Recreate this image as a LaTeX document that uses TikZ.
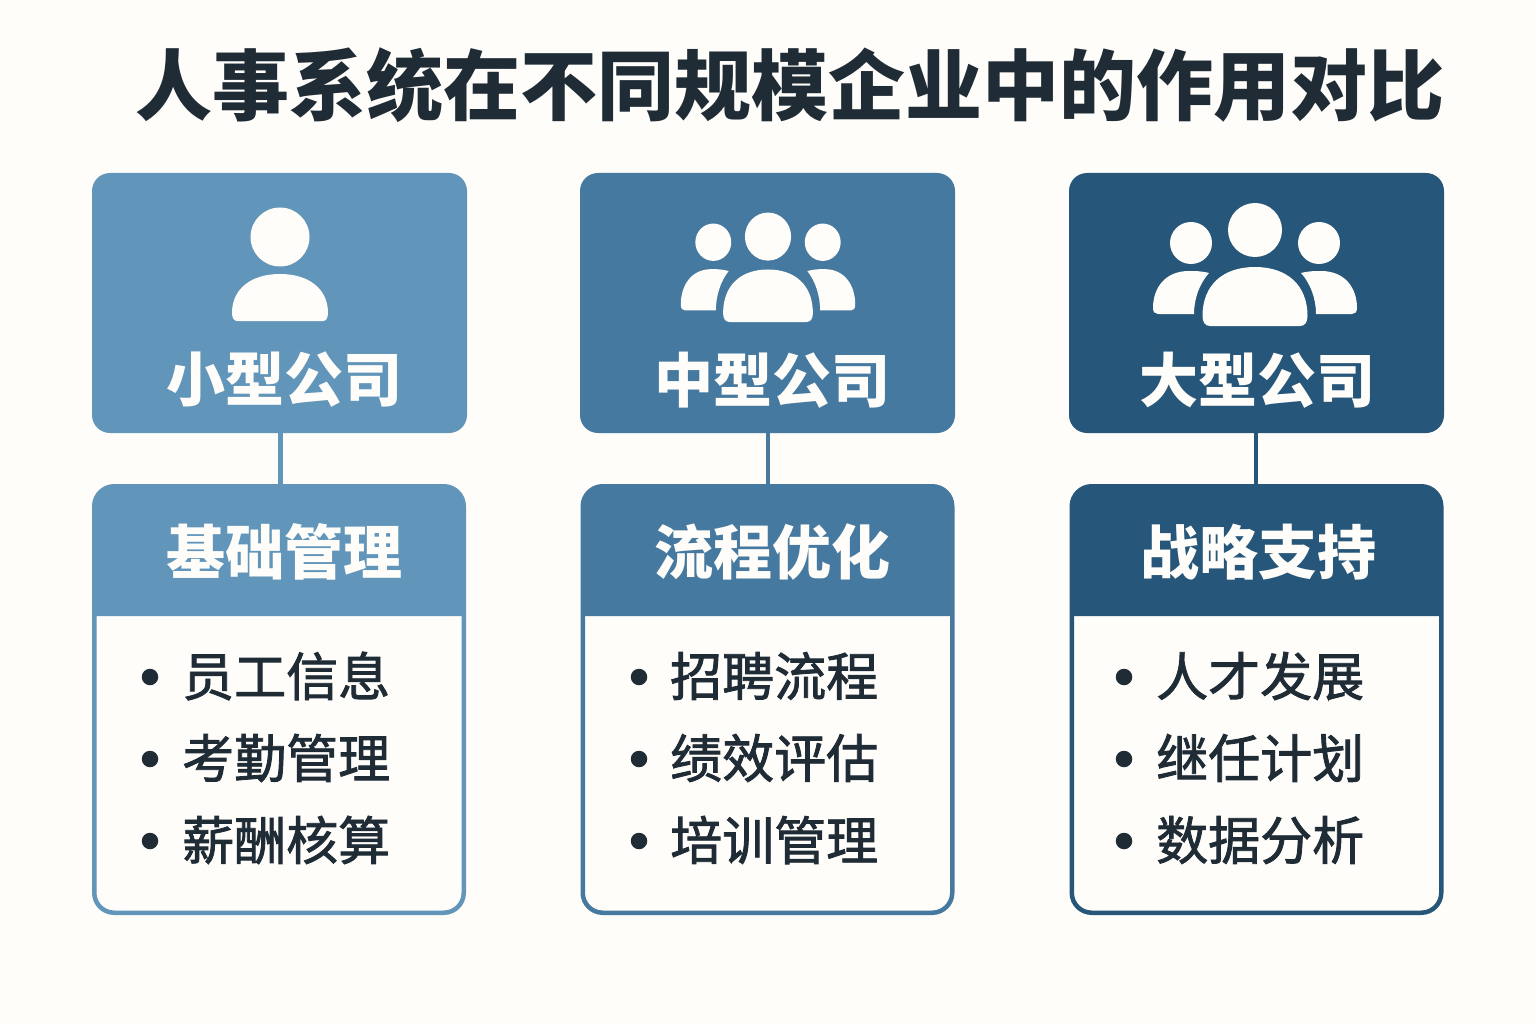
\documentclass[tikz,border=0pt]{standalone}
\usepackage{fontspec}
\setmainfont{Noto Sans CJK SC}
\newfontfamily\cjk{Noto Sans CJK SC}[FakeBold=1.6]
\usetikzlibrary{positioning}
\definecolor{paper}{HTML}{FEFDFA}
\definecolor{ink}{HTML}{1F2B35}
\definecolor{blueA}{HTML}{6195BA}
\definecolor{blueB}{HTML}{46799F}
\definecolor{blueC}{HTML}{265679}
\tikzset{
    sizebox/.style={fill=#1, rounded corners=18pt, minimum width=375pt, minimum height=260pt, outer sep=0pt},
    card/.style={draw=#1, line width=4.5pt, fill=paper, rounded corners=20pt, minimum width=369.5pt, minimum height=426.5pt, outer sep=0pt},
    link/.style={draw=#1, line width=4.5pt},
    headline/.style={text=paper, font=\bfseries\fontsize{59}{61}\selectfont, inner sep=0pt},
    entry/.style={text=ink, font=\cjk\fontsize{52}{54}\selectfont, anchor=west, inner sep=0pt},
    dot/.style={circle, fill=ink, minimum size=16.5pt, inner sep=0pt}
}
% one person, x y
\newcommand{\personicon}[2]{
    \begin{scope}[shift={(#1,#2)}, paper]
        \fill (0,-84) circle (29.5);
        \fill (-43,0) .. controls (-46,0) and (-48,-3) .. (-48,-8) .. controls (-48,-32) and (-29,-47) .. (0,-47)
            .. controls (29,-47) and (48,-32) .. (48,-8) .. controls (48,-3) and (46,0) .. (43,0) -- cycle;
    \end{scope}
}
% three people, x y xscale yscale lift of the two behind
\newcommand{\crowdicon}[5]{
    \begin{scope}[shift={(#1,#2)}, xscale=#3, yscale=#4, paper]
        \fill (0,-96) circle (27);
        \fill (-64,{-83*#5}) circle (21);
        \fill (64,{-83*#5}) circle (21);
        \fill (-45,0) .. controls (-50,0) and (-52.5,-4) .. (-52.5,-10) .. controls (-52.5,-41) and (-32,-59) .. (0,-59)
            .. controls (32,-59) and (52.5,-41) .. (52.5,-10) .. controls (52.5,-4) and (50,0) .. (45,0) -- cycle;
        \foreach \side in {-1,1} {
            \fill[xscale=\side, yscale=#5] (-61,-12) .. controls (-61,-28) and (-55,-43) .. (-46,-53) .. controls (-54,-55) and (-60,-55) .. (-66,-55)
                .. controls (-90,-55) and (-102,-38) .. (-102,-18) .. controls (-102,-14) and (-100,-12) .. (-97,-12) -- cycle;
        }
    \end{scope}
}
\begin{document}
\begin{tikzpicture}[x=1pt, y=-1pt]
    \fill[paper] (0,0) rectangle (1536,1024);
    \useasboundingbox (0,0) rectangle (1536,1024);
    \node[text=ink, font=\bfseries\fontsize{77}{80}\selectfont, inner sep=0pt] (title) at (790,85) {人事系统在不同规模企业中的作用对比};

    % small
    \node[sizebox=blueA] (small) at (279.5,303) {};
    \node[card=blueA] (basic) at (279,699.5) {};
    \draw[link=blueA] (small.south -| 280.5,0) -- (basic.north -| 280.5,0);
    \fill[blueA] (basic.north west |- 0,616) [rounded corners=20pt] -- (basic.north west) -- (basic.north east) [sharp corners] -- (basic.north east |- 0,616) -- cycle;
    \personicon{280}{321}
    \node[headline] (smallname) at (284,380) {小型公司};
    \node[headline] (basichead) at (284,552) {基础管理};
    \node[dot] (bA) at (150,677) {};
    \node[dot] (bB) at (150,759) {};
    \node[dot] (bC) at (150,841) {};
    \node[entry] (tA) at (182,676) {员工信息};
    \node[entry] (tB) at (182,758) {考勤管理};
    \node[entry] (tC) at (182,840) {薪酬核算};

    % medium
    \node[sizebox=blueB] (medium) at (767.5,303) {};
    \node[card=blueB] (flow) at (767.5,699.5) {};
    \draw[link=blueB] (medium.south -| 768,0) -- (flow.north -| 768,0);
    \fill[blueB] (flow.north west |- 0,616) [rounded corners=20pt] -- (flow.north west) -- (flow.north east) [sharp corners] -- (flow.north east |- 0,616) -- cycle;
    \crowdicon{768}{322}{0.855}{0.89}{1.08}
    \node[headline] (mediumname) at (772,380) {中型公司};
    \node[headline] (flowhead) at (772,552) {流程优化};
    \node[dot] (mA) at (639,677) {};
    \node[dot] (mB) at (639,759) {};
    \node[dot] (mC) at (639,841) {};
    \node[entry] (uA) at (670,676) {招聘流程};
    \node[entry] (uB) at (670,758) {绩效评估};
    \node[entry] (uC) at (670,840) {培训管理};

    % large
    \node[sizebox=blueC] (large) at (1256.5,303) {};
    \node[card=blueC] (plan) at (1256.5,699.5) {};
    \draw[link=blueC] (large.south -| 1256,0) -- (plan.north -| 1256,0);
    \fill[blueC] (plan.north west |- 0,616) [rounded corners=20pt] -- (plan.north west) -- (plan.north east) [sharp corners] -- (plan.north east |- 0,616) -- cycle;
    \crowdicon{1255}{326}{1}{1}{1}
    \node[headline] (largename) at (1257,380) {大型公司};
    \node[headline] (planhead) at (1258,552) {战略支持};
    \node[dot] (lA) at (1124,677) {};
    \node[dot] (lB) at (1124,759) {};
    \node[dot] (lC) at (1124,841) {};
    \node[entry] (vA) at (1156,676) {人才发展};
    \node[entry] (vB) at (1156,758) {继任计划};
    \node[entry] (vC) at (1156,840) {数据分析};
\end{tikzpicture}
\end{document}
